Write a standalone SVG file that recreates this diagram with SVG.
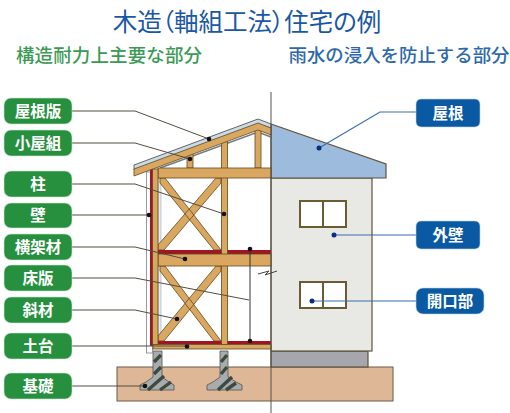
<svg xmlns="http://www.w3.org/2000/svg" width="510" height="413" viewBox="0 0 510 413">
<style>
text{font-family:"Noto Sans CJK JP","Noto Sans",sans-serif;text-anchor:middle}
.t{font-size:24.5px;fill:#1a58a5;font-feature-settings:"palt"}
.sg{font-size:18.5px;fill:#3c9a55;font-weight:500}
.sb{font-size:18.4px;fill:#2d69a8;font-weight:500}
.lab{font-size:15.500px;fill:#fff;font-weight:700}
.g{fill:#27903f;stroke:#cfe6d4;stroke-width:.6}
.b{fill:#0a5aa3;stroke:#bcd2e8;stroke-width:.6}
.w{fill:#d9a75f;stroke:#5f4a22;stroke-width:.8}
.r{fill:#a01423}
.wall{stroke:#5f5338;stroke-width:1.2}
.win{fill:#fff;stroke:#6b5b32;stroke-width:2}
.lg{fill:none;stroke:#544c40;stroke-width:1}
.lb{fill:none;stroke:#3a6dab;stroke-width:1.2}
.d{fill:#111}
.db{fill:#0a2f80}
.conc{fill:#a9acae;stroke:#55524a;stroke-width:.8}
.st{stroke:#3d4a3f;stroke-width:3.4;fill:none}
</style>
<rect width="510" height="413" fill="#fff"/>
<text class="t" x="247" y="31">木造（軸組工法）住宅の例</text>
<text class="sg" x="109" y="62" textLength="186">構造耐力上主要な部分</text>
<text class="sb" x="399" y="62" textLength="221">雨水の浸入を防止する部分</text>

<g id="foundation">
<rect x="117" y="367" width="276" height="34" fill="#deb797" stroke="#6a5848" stroke-width="1"/>
</g>
<g id="footings">
<path class="conc" d="M153 351H162V377L169 382 174 385V390H140V385L146 382 153 377Z"/>
<path class="st" d="M154 362L161 355M154 374L161 367M148 390L164 376M160 390L171 382"/>
<path class="conc" d="M220 351H228V377L236 382 242 385V390H207V385L213 382 220 377Z"/>
<path class="st" d="M221 362L227 355M221 374L227 367M218 390L232 377M226 390L236 383"/>
</g>
<g id="house-exterior">
<rect x="271" y="351" width="97" height="16" fill="#a6a7ac" class="wall"/>
<rect x="271" y="178" width="101" height="173" fill="#e8e9e5" class="wall"/>
<path d="M271 124L386 164V178H271Z" fill="#9dbbdd" class="wall"/>
<g id="window-upper">
<rect class="win" x="300" y="201" width="46" height="26"/>
<path class="win" d="M323 201V227"/>
</g>
<g id="window-lower">
<rect class="win" x="300" y="282" width="46" height="26"/>
<path class="win" d="M323 282V308"/>
</g>
</g>
<g id="frame">
<path d="M134 165L258 119 271 124V128L258 124 134 170Z" fill="#c9dbe6" stroke="#555" stroke-width=".9"/>
<path d="M160 168L258 132 271 137" fill="none" stroke="#6c7d86" stroke-width="1.6"/>
<rect x="146.500" y="172" width="6" height="181" fill="#fff" stroke="#8a8f92" stroke-width=".9"/>
<rect x="158" y="178" width="3" height="72" fill="#e4ecf0" stroke="#8a9aa2" stroke-width=".5"/>
<rect x="158" y="266" width="3" height="75" fill="#e4ecf0" stroke="#8a9aa2" stroke-width=".5"/>
<rect class="r" x="150" y="168" width="3" height="178"/>
<path class="w" d="M160 183L214 250H221L165 178H160ZM216 178L158 245V250H164L221 183V178Z"/>
<path class="w" d="M160 271L214 341H221L165 266H160ZM216 266L158 336V341H164L221 271V266Z"/>
<rect class="r" x="158" y="250" width="113" height="4"/>
<rect class="r" x="158" y="341" width="113" height="3.500"/>
<rect class="w" x="187" y="152" width="6" height="16"/>
<rect class="w" x="255" y="126" width="6" height="42"/>
<rect class="w" x="221.500" y="141" width="6" height="204"/>
<rect class="w" x="158" y="168" width="113" height="10"/>
<rect class="w" x="158" y="254" width="113" height="12"/>
<rect class="w" x="152.500" y="169" width="5.500" height="176"/>
<rect class="w" x="153" y="344.500" width="118" height="4.500"/>
<path class="w" d="M134 169L258 123 271 128V135L258 130 134 176Z"/>
<path d="M250 249V341" fill="none" stroke="#333" stroke-width="1"/>
</g>
<path id="center-line" d="M271 92V413" fill="none" stroke="#57534a" stroke-width="1"/>
<path id="break-mark" d="M258 274L269 271 265 275 277 271" fill="none" stroke="#444" stroke-width="1"/>

<g id="connectors">
<path class="lg" d="M72 111H135L209 139"/><circle class="d" cx="209" cy="139" r="2.300"/>
<path class="lg" d="M72 143H135L190 159"/><circle class="d" cx="190" cy="159" r="2.300"/>
<path class="lg" d="M72 184H135L224 214"/><circle class="d" cx="224" cy="214" r="2.300"/>
<path class="lg" d="M72 215H149"/><circle class="d" cx="149" cy="215" r="2.300"/>
<path class="lg" d="M72 247H135L185 259"/><circle class="d" cx="185" cy="259" r="2.300"/>
<path class="lg" d="M72 278H135L249 300"/>
<circle class="d" cx="250" cy="249" r="2.300"/><circle class="d" cx="250" cy="341" r="2.300"/>
<path class="lg" d="M72 310H135L177 319"/><circle class="d" cx="177" cy="319" r="2.300"/>
<path class="lg" d="M72 346H187"/><circle class="d" cx="187" cy="346.500" r="2.300"/>
<path class="lg" d="M72 386H145"/><circle class="d" cx="145" cy="386" r="2.300"/>
<path class="lb" d="M416 112H380L319 148"/><circle class="db" cx="319" cy="148" r="2.500"/>
<path class="lb" d="M416 235H334"/><circle class="db" cx="334" cy="235" r="2.500"/>
<path class="lb" d="M416 301H312"/><circle class="db" cx="312" cy="301" r="2.500"/>
</g>

<g id="label-yaneban"><rect class="g" x="4" y="98" width="68" height="26" rx="7"/><text class="lab" x="38" y="116.500">屋根版</text></g>
<g id="label-koyagumi"><rect class="g" x="4" y="130" width="68" height="26" rx="7"/><text class="lab" x="38" y="148.500">小屋組</text></g>
<g id="label-hashira"><rect class="g" x="4" y="171" width="68" height="26" rx="7"/><text class="lab" x="38" y="189.500">柱</text></g>
<g id="label-kabe"><rect class="g" x="4" y="203" width="68" height="25" rx="7"/><text class="lab" x="38" y="221">壁</text></g>
<g id="label-oukazai"><rect class="g" x="4" y="234" width="68" height="26" rx="7"/><text class="lab" x="38" y="252.500">横架材</text></g>
<g id="label-yukaban"><rect class="g" x="4" y="265" width="68" height="26" rx="7"/><text class="lab" x="38" y="283.500">床版</text></g>
<g id="label-shazai"><rect class="g" x="4" y="297" width="68" height="26" rx="7"/><text class="lab" x="38" y="315.500">斜材</text></g>
<g id="label-dodai"><rect class="g" x="4" y="333" width="68" height="26" rx="7"/><text class="lab" x="38" y="351.500">土台</text></g>
<g id="label-kiso"><rect class="g" x="4" y="373" width="68" height="26" rx="7"/><text class="lab" x="38" y="391.500">基礎</text></g>
<g id="label-yane"><rect class="b" x="416" y="99" width="64" height="28" rx="5"/><text class="lab" x="448" y="118.500">屋根</text></g>
<g id="label-gaiheki"><rect class="b" x="416" y="221" width="64" height="28" rx="5"/><text class="lab" x="448" y="240.500">外壁</text></g>
<g id="label-kaikoubu"><rect class="b" x="416" y="288" width="68" height="26" rx="7"/><text class="lab" x="450" y="306.500">開口部</text></g>
</svg>
